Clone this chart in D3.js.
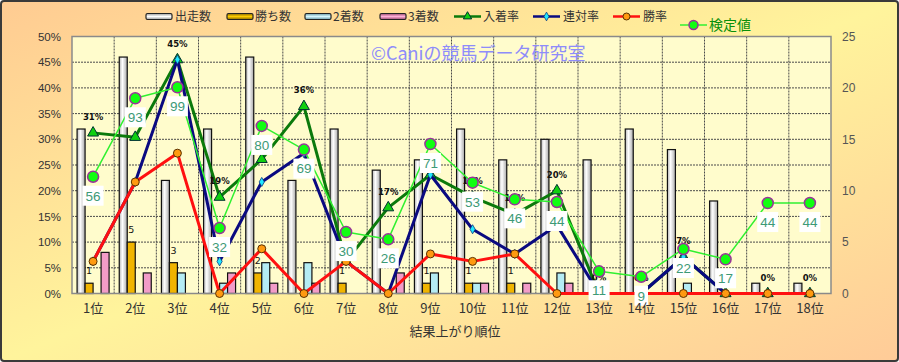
<!DOCTYPE html>
<html>
<head>
<meta charset="utf-8">
<script src="https://cdn.jsdelivr.net/npm/d3@7"></script>
<style>
  body { margin: 0; }
  svg { display: block; }
</style>
</head>
<body>
<div id="chart"></div>
<script>
// データ
const categories   = ["1位","2位","3位","4位","5位","6位","7位","8位","9位","10位","11位","12位","13位","14位","15位","16位","17位","18位"];
const runs         = [32,46,22,32,46,22,32,24,26,32,26,30,26,32,28,18,2,2];
const wins         = [2,10,6,0,4,0,2,0,2,2,2,0,0,0,0,0,0,0];
const seconds      = [0,0,4,2,6,6,0,0,4,2,0,4,0,0,2,0,0,0];
const thirds       = [8,4,0,4,2,2,0,4,0,2,2,2,0,0,0,0,0,0];
const winLabels    = [1,5,3,null,2,null,1,null,1,1,1,null,null,null,null,null,null,null];
const placeRate    = [31.25,30.4,45.5,18.75,26.1,36.4,6.25,16.7,23.1,18.75,15.4,20,0,0,7.1,0,0,0];
const placeLabels  = ["31%","30%","45%","19%","26%","36%","6%","17%","23%","19%","15%","20%","0%","0%","7%","0%","0%","0%"];
const rentaiRate   = [6.25,21.7,45.5,6.25,21.7,27.3,6.25,0,23.1,12.5,7.7,13.3,0,0,7.1,0,0,0];
const winRate      = [6.25,21.7,27.3,0,8.7,0,6.25,0,7.7,6.25,7.7,0,0,0,0,0,0,0];
const kentei       = [11.36,18.99,20.06,6.37,16.3,14.0,5.98,5.27,14.54,10.78,9.16,8.9,2.16,1.63,4.33,3.33,8.8,8.8];
const kenteiLabels = [56,93,99,32,80,69,30,26,71,53,46,44,11,9,22,17,44,44];
const leftTicks    = [0,5,10,15,20,25,30,35,40,45,50];
const rightTicks   = [0,5,10,15,20,25];

const width = 899, height = 362;
const plot = { left: 72, right: 831, top: 36.5, bottom: 293.5 };
const jpFont = "'Noto Sans CJK JP', sans-serif";
const numFont = "'Liberation Sans', Arial, sans-serif";

const svg = d3.select('#chart').append('svg')
    .attr('width', width)
    .attr('height', height);

const defs = svg.append('defs');

// 背景グラデーション
const bgGrad = defs.append('linearGradient').attr('id', 'bgGrad')
    .attr('x1', 0).attr('y1', 0).attr('x2', 1).attr('y2', 1);
bgGrad.append('stop').attr('offset', '0%').attr('stop-color', '#ffcb92');
bgGrad.append('stop').attr('offset', '50%').attr('stop-color', '#fff49c');
bgGrad.append('stop').attr('offset', '100%').attr('stop-color', '#ffcb98');

const runGrad = defs.append('linearGradient').attr('id', 'runGrad')
    .attr('x1', 0).attr('y1', 0).attr('x2', 1).attr('y2', 0);
runGrad.append('stop').attr('offset', '0%').attr('stop-color', '#b8b8b8');
runGrad.append('stop').attr('offset', '40%').attr('stop-color', '#ffffff');
runGrad.append('stop').attr('offset', '100%').attr('stop-color', '#a8a8a8');

function vGrad(id, edge, mid) {
    const g = defs.append('linearGradient').attr('id', id)
        .attr('x1', 0).attr('y1', 0).attr('x2', 0).attr('y2', 1);
    g.append('stop').attr('offset', '0%').attr('stop-color', edge);
    g.append('stop').attr('offset', '50%').attr('stop-color', mid);
    g.append('stop').attr('offset', '100%').attr('stop-color', edge);
}
vGrad('lgRun', '#9a9a9a', '#ffffff');
vGrad('lgWin', '#8a6a00', '#ffcc00');
vGrad('lgSec', '#6a9aa8', '#d8f8ff');
vGrad('lgThr', '#9a4a70', '#ffb0d8');

svg.append('rect')
    .attr('x', 1).attr('y', 1)
    .attr('width', width - 2).attr('height', height - 2)
    .attr('rx', 3)
    .attr('fill', 'url(#bgGrad)')
    .attr('stroke', '#3a3a3a')
    .attr('stroke-width', 2);

// スケール
const x = d3.scaleBand().domain(categories).range([plot.left, plot.right]);
const bw = x.bandwidth();
const cx = d => x(d) + bw / 2;
const y = d3.scaleLinear().domain([0, 50]).range([plot.bottom, plot.top]);
const yR = d3.scaleLinear().domain([0, 25]).range([plot.bottom, plot.top]);

const barKeys = ['run', 'win', 'sec', 'thr'];
const xSub = d3.scaleBand().domain(barKeys).range([bw / 2 - 16, bw / 2 + 16]);

// プロットエリア
svg.append('rect')
    .attr('x', plot.left).attr('y', plot.top)
    .attr('width', plot.right - plot.left).attr('height', plot.bottom - plot.top)
    .attr('fill', '#fffccc');

const grid = svg.append('g')
    .attr('stroke', '#4a4a4a')
    .attr('stroke-width', 1)
    .attr('stroke-dasharray', '2,1');
grid.selectAll('line.h')
    .data(leftTicks.slice(1, -1))
    .join('line')
    .attr('x1', plot.left).attr('x2', plot.right)
    .attr('y1', d => y(d)).attr('y2', d => y(d));
grid.selectAll('line.v')
    .data(categories.slice(1))
    .join('line')
    .attr('x1', d => x(d)).attr('x2', d => x(d))
    .attr('y1', plot.top).attr('y2', plot.bottom);

// 棒グラフ
const barSeries = [
    { key: 'run', values: runs,    fill: 'url(#runGrad)' },
    { key: 'win', values: wins,    fill: '#f0b400' },
    { key: 'sec', values: seconds, fill: '#b4ecf4' },
    { key: 'thr', values: thirds,  fill: '#f29cc8' }
];
const bars = svg.append('g');
barSeries.forEach(s => {
    bars.selectAll(null)
        .data(categories.map((c, i) => ({ c, v: s.values[i] })).filter(d => d.v > 0))
        .join('rect')
        .attr('x', d => x(d.c) + xSub(s.key))
        .attr('y', d => y(d.v))
        .attr('width', xSub.bandwidth())
        .attr('height', d => y(0) - y(d.v))
        .attr('fill', s.fill)
        .attr('stroke', '#111')
        .attr('stroke-width', 1.2);
});

svg.append('rect')
    .attr('x', plot.left).attr('y', plot.top)
    .attr('width', plot.right - plot.left).attr('height', plot.bottom - plot.top)
    .attr('fill', 'none')
    .attr('stroke', '#8a8a8a')
    .attr('stroke-width', 1.5);

// 折れ線
function drawLine(values, scale, color, lw) {
    const line = d3.line()
        .x((d, i) => cx(categories[i]))
        .y(d => scale(d));
    svg.append('path')
        .datum(values)
        .attr('d', line)
        .attr('fill', 'none')
        .attr('stroke', color)
        .attr('stroke-width', lw)
        .attr('stroke-linejoin', 'round');
}
function drawSymbols(values, scale, type, size, fill, stroke, sw) {
    svg.append('g').selectAll('path')
        .data(values)
        .join('path')
        .attr('transform', (d, i) => `translate(${cx(categories[i])},${scale(d)})`)
        .attr('d', d3.symbol().type(type).size(size))
        .attr('fill', fill)
        .attr('stroke', stroke)
        .attr('stroke-width', sw);
}

drawLine(placeRate, y, '#0b7a0b', 3);
drawSymbols(placeRate, y, d3.symbolTriangle, 52, '#10d010', '#033', 1);
drawLine(rentaiRate, y, '#0a0a80', 3);
drawSymbols(rentaiRate, y, d3.symbolDiamond, 24, '#20e8ff', '#0a3a80', 0.8);
drawLine(winRate, y, '#ff1010', 3);
svg.append('g').selectAll('circle')
    .data(winRate)
    .join('circle')
    .attr('cx', (d, i) => cx(categories[i]))
    .attr('cy', d => y(d))
    .attr('r', 4)
    .attr('fill', '#ff9a10')
    .attr('stroke', '#5a3000')
    .attr('stroke-width', 1);

// データラベル
svg.append('g').selectAll('text')
    .data(categories.map((c, i) => ({ c, v: winLabels[i], h: wins[i] })).filter(d => d.v !== null))
    .join('text')
    .attr('x', d => x(d.c) + xSub('win') + xSub.bandwidth() / 2)
    .attr('y', d => y(d.h) - 9)
    .attr('text-anchor', 'middle')
    .attr('font-family', "'DejaVu Sans', sans-serif")
    .attr('font-size', 9.5)
    .attr('fill', '#111')
    .text(d => d.v);

svg.append('g').selectAll('text')
    .data(placeLabels)
    .join('text')
    .attr('x', (d, i) => cx(categories[i]))
    .attr('y', (d, i) => y(placeRate[i]) - 13)
    .attr('text-anchor', 'middle')
    .attr('font-family', "'DejaVu Sans', sans-serif")
    .attr('font-weight', 'bold')
    .attr('font-size', 8.5)
    .attr('fill', '#111')
    .text(d => d);

// 検定値
drawLine(kentei, yR, '#30f030', 1.5);
svg.append('g').selectAll('circle')
    .data(kentei)
    .join('circle')
    .attr('cx', (d, i) => cx(categories[i]))
    .attr('cy', d => yR(d))
    .attr('r', 5.5)
    .attr('fill', '#10ff10')
    .attr('stroke', '#993399')
    .attr('stroke-width', 1.5);

const kLab = svg.append('g').selectAll('g')
    .data(kenteiLabels)
    .join('g')
    .attr('transform', (d, i) => `translate(${cx(categories[i])},${yR(kentei[i]) + 19})`);
kLab.append('rect')
    .attr('x', d => -(String(d).length * 7.5 + 6) / 2)
    .attr('y', -10)
    .attr('width', d => String(d).length * 7.5 + 6)
    .attr('height', 20)
    .attr('fill', '#ffffff');
kLab.append('text')
    .attr('text-anchor', 'middle')
    .attr('dy', '0.36em')
    .attr('font-family', numFont)
    .attr('font-size', 13.5)
    .attr('fill', '#3d9a76')
    .text(d => d);

// ウォーターマーク
svg.append('text')
    .attr('x', 371).attr('y', 60)
    .attr('font-family', jpFont)
    .attr('font-size', 18)
    .attr('fill', '#8e8cfa')
    .text('©Caniの競馬データ研究室');

// 軸
const leftAxis = svg.append('g')
    .attr('transform', `translate(${plot.left},0)`)
    .call(d3.axisLeft(y).tickValues(leftTicks).tickSize(0).tickPadding(11).tickFormat(d => d + '%'));
leftAxis.select('.domain').remove();
leftAxis.selectAll('text')
    .attr('font-family', numFont)
    .attr('font-size', 11.5)
    .attr('fill', '#333');

const rightAxis = svg.append('g')
    .attr('transform', `translate(${plot.right},0)`)
    .call(d3.axisRight(yR).tickValues(rightTicks).tickSize(0).tickPadding(11));
rightAxis.select('.domain').remove();
rightAxis.selectAll('text')
    .attr('font-family', numFont)
    .attr('font-size', 12)
    .attr('fill', '#555');

const bottomAxis = svg.append('g')
    .attr('transform', `translate(0,${plot.bottom})`)
    .call(d3.axisBottom(x).tickSize(0).tickPadding(10));
bottomAxis.select('.domain').remove();
bottomAxis.selectAll('text')
    .attr('font-family', jpFont)
    .attr('font-size', 13)
    .attr('fill', '#333');

svg.append('text')
    .attr('x', 455).attr('y', 331)
    .attr('dy', '0.35em')
    .attr('text-anchor', 'middle')
    .attr('font-family', jpFont)
    .attr('font-size', 13)
    .attr('fill', '#333')
    .text('結果上がり順位');

// 凡例
const legendItems = [
    { name: '出走数', kind: 'bar',  fill: 'url(#lgRun)', ix: 146, tx: 175, ly: 16.5 },
    { name: '勝ち数', kind: 'bar',  fill: 'url(#lgWin)', ix: 227, tx: 255, ly: 16.5 },
    { name: '2着数',  kind: 'bar',  fill: 'url(#lgSec)', ix: 305, tx: 333, ly: 16.5 },
    { name: '3着数',  kind: 'bar',  fill: 'url(#lgThr)', ix: 380, tx: 408, ly: 16.5 },
    { name: '入着率', kind: 'line', color: '#0b7a0b', sym: 'tri',  ix: 454, tx: 483, ly: 16.5 },
    { name: '連対率', kind: 'line', color: '#0a0a80', sym: 'dia',  ix: 533, tx: 563, ly: 16.5 },
    { name: '勝率',   kind: 'line', color: '#ff1010', sym: 'circ', ix: 613, tx: 643, ly: 16.5 },
    { name: '検定値', kind: 'line', color: '#30f030', sym: 'kc',   ix: 680, tx: 709, ly: 25 }
];
const legend = svg.append('g');
legendItems.forEach(it => {
    if (it.kind === 'bar') {
        legend.append('rect')
            .attr('x', it.ix).attr('y', it.ly - 3)
            .attr('width', 26).attr('height', 6)
            .attr('rx', 1.5)
            .attr('fill', it.fill)
            .attr('stroke', '#222')
            .attr('stroke-width', 1.2);
    } else {
        legend.append('line')
            .attr('x1', it.ix).attr('x2', it.ix + 27)
            .attr('y1', it.ly).attr('y2', it.ly)
            .attr('stroke', it.color)
            .attr('stroke-width', it.sym === 'kc' ? 1.5 : 2.5);
        const mx = it.ix + 13.5;
        if (it.sym === 'tri') {
            legend.append('path')
                .attr('transform', `translate(${mx},${it.ly})`)
                .attr('d', d3.symbol().type(d3.symbolTriangle).size(30))
                .attr('fill', '#10d010').attr('stroke', '#033');
        } else if (it.sym === 'dia') {
            legend.append('path')
                .attr('transform', `translate(${mx},${it.ly})`)
                .attr('d', d3.symbol().type(d3.symbolDiamond).size(22))
                .attr('fill', '#20e8ff').attr('stroke', '#0a3a80').attr('stroke-width', 0.8);
        } else if (it.sym === 'circ') {
            legend.append('circle')
                .attr('cx', mx).attr('cy', it.ly).attr('r', 3.5)
                .attr('fill', '#ff9a10').attr('stroke', '#5a3000');
        } else {
            legend.append('circle')
                .attr('cx', mx).attr('cy', it.ly).attr('r', 4.5)
                .attr('fill', '#10ff10').attr('stroke', '#993399').attr('stroke-width', 1.5);
        }
    }
    legend.append('text')
        .attr('x', it.tx).attr('y', it.ly)
        .attr('dy', '0.36em')
        .attr('font-family', jpFont)
        .attr('font-size', it.sym === 'kc' ? 14 : 12)
        .attr('fill', it.sym === 'kc' ? '#08900a' : '#333')
        .text(it.name);
});
</script>
</body>
</html>
